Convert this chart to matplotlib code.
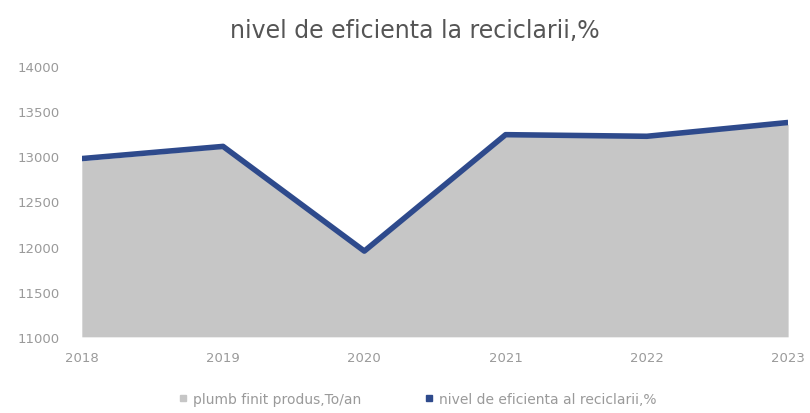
import matplotlib.pyplot as plt
from matplotlib.lines import Line2D

years = ["2018", "2019", "2020", "2021", "2022", "2023"]
plumb_finit = [12950, 13090, 11930, 13225, 13205, 13355]
nivel_eficienta = [12975, 13110, 11950, 13240, 13222, 13375]

plt.rcParams['font.family'] = ['DejaVu Sans']

fig = plt.figure(figsize=(8.1, 4.14), dpi=100)
ax = fig.add_axes([0.101, 0.184, 0.872, 0.654])

x = range(len(years))
ax.fill_between(x, 11000, plumb_finit, color="#c6c6c6", linewidth=0)
ax.plot(x, nivel_eficienta, color="#2e4a8c", linewidth=4, solid_capstyle="butt")

ax.set_xlim(0, len(years) - 1)
ax.set_ylim(11000, 14000)
ax.set_yticks(range(11000, 14001, 500))
ax.set_xticks(list(x))
ax.set_xticklabels(years)
ax.tick_params(length=0, colors="#9a9a9a", labelsize=9.5)
ax.tick_params(axis="x", pad=10)
ax.tick_params(axis="y", pad=16)
for s in ax.spines.values():
    s.set_visible(False)

fig.text(0.512, 0.925, "nivel de eficienta la reciclarii,%", ha="center", va="center",
         fontsize=17, color="#555555")

handles = [
    Line2D([], [], marker="s", linestyle="none", color="#c6c6c6", markersize=5),
    Line2D([], [], marker="s", linestyle="none", color="#2e4a8c", markersize=5),
]
fig.legend(handles, ["plumb finit produs,To/an", "nivel de eficienta al reciclarii,%"],
           loc="center", bbox_to_anchor=(0.515, 0.035), ncol=2, frameon=False,
           fontsize=10, labelcolor="#9a9a9a", handlelength=0.8, handletextpad=0.3,
           columnspacing=4.5)

plt.savefig("out.png")
